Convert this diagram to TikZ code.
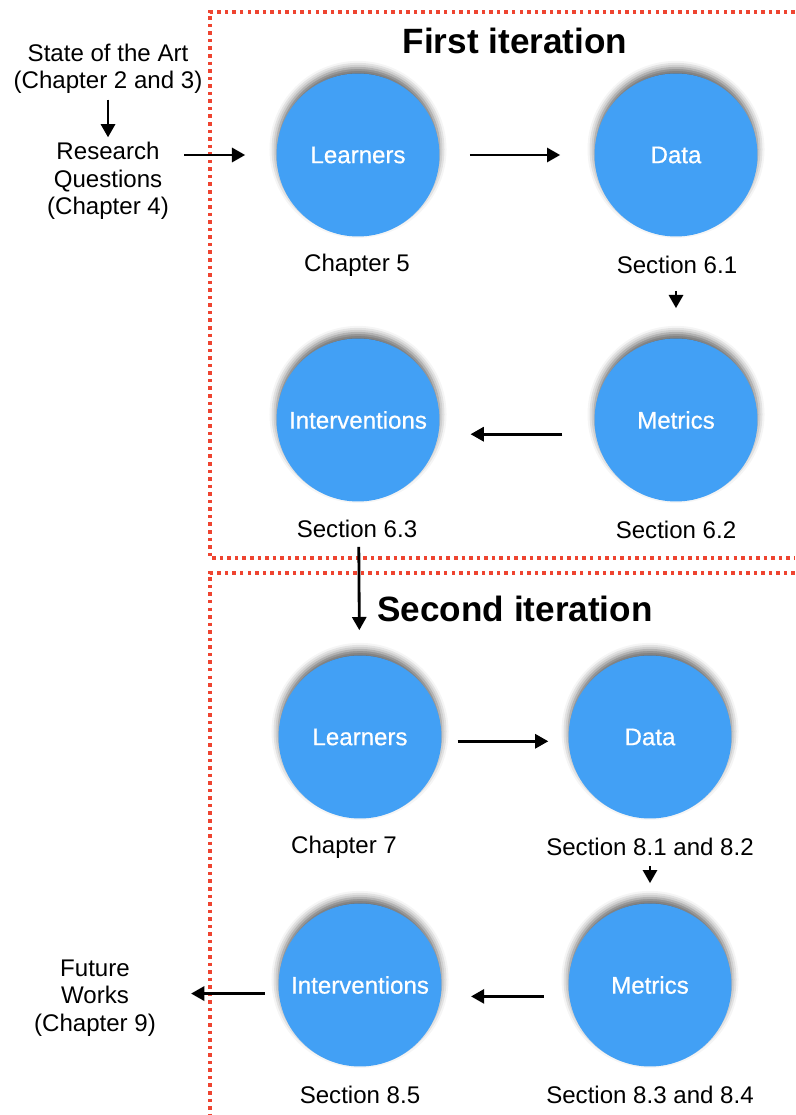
\documentclass[tikz,border=0pt]{standalone}
\usepackage{fontspec}
\setmainfont{Liberation Sans}
\usetikzlibrary{arrows.meta,shadows.blur}
\definecolor{ballblue}{HTML}{42A0F5}
\definecolor{boxred}{HTML}{EE4430}

\begin{document}
\begin{tikzpicture}[x=0.02cm,y=-0.02cm,
    ball/.style={circle,fill=ballblue,minimum size=3.26cm,inner sep=0pt,
        text=white,font=\fontsize{13.7}{16}\selectfont\addfontfeatures{FakeBold=0.6},
        blur shadow={shadow xshift=0pt,shadow yshift=3.2pt,shadow blur radius=4pt,shadow opacity=60}},
    sectext/.style={font=\fontsize{13.7}{15.5}\selectfont,align=center},
    itertitle/.style={font=\fontsize{20}{24}\selectfont\bfseries},
    flow/.style={-{Triangle[length=7.5pt,width=8pt]},line width=1.6pt},
    dotframe/.style={boxred,line width=2pt,dash pattern=on 2pt off 2.3pt}]
\useasboundingbox (0,0) rectangle (795,1115);

% Frames
\draw[dotframe] (795,12) -- (210,12) -- (210,558) -- (795,558);
\draw[dotframe] (795,573) -- (210,573) -- (210,1115);
\node[itertitle] (titleA) at (515,41) {First iteration};
\node[itertitle] (titleB) at (515,609) {Second iteration};

% Outside texts
\node[sectext] (sota) at (108,68.5) {State of the Art\\(Chapter 2 and 3)};
\node[sectext] (rq) at (108,181) {Research\\Questions\\(Chapter 4)};
\node[sectext] (future) at (95,998) {Future\\Works\\(Chapter 9)};

% First iteration
\node[ball] (learnA) at (358,155) {Learners};
\node[ball] (dataA) at (676,155) {Data};
\node[ball] (metA) at (676,420) {Metrics};
\node[ball] (intA) at (358,420) {Interventions};
\node[sectext] (capLearnA) at (357,265) {Chapter 5};
\node[sectext] (capDataA) at (677,265) {Section 6.1};
\node[sectext] (capMetA) at (676,530) {Section 6.2};
\node[sectext] (capIntA) at (357,529) {Section 6.3};

% Second iteration
\node[ball] (learnB) at (360,737) {Learners};
\node[ball] (dataB) at (650,737) {Data};
\node[ball] (metB) at (650,985) {Metrics};
\node[ball] (intB) at (360,985) {Interventions};
\node[sectext] (capLearnB) at (344,847) {Chapter 7};
\node[sectext] (capDataB) at (650,847) {Section 8.1 and 8.2};
\node[sectext] (capMetB) at (650,1095) {Section 8.3 and 8.4};
\node[sectext] (capIntB) at (360,1095) {Section 8.5};

% Arrows
\draw[flow,shorten <=0pt,shorten >=-0.02cm] (sota) -- (rq);
\draw[flow,shorten <=0.18cm,shorten >=0.62cm] (rq.east |- learnA) -- (learnA);
\draw[flow,shorten <=0.6cm,shorten >=0.68cm] (learnA) -- (dataA);
\draw[flow,shorten <=1.08cm,shorten >=0.6cm] (dataA) -- (metA);
\draw[flow,shorten <=0.66cm,shorten >=0.64cm] (metA.190) -- (intA.350);
\draw[flow,shorten <=0.9cm,shorten >=0.5cm] (intA) -- (learnB);
\draw[flow,shorten <=0.32cm,shorten >=0.4cm] (learnB.357) -- (dataB.183);
\draw[flow,shorten <=0.94cm,shorten >=0.4cm] (dataB) -- (metB);
\draw[flow,shorten <=0.5cm,shorten >=0.6cm] (metB.188) -- (intB.352);
\draw[flow,shorten <=0.28cm,shorten >=0.58cm] (intB.186) -- (future.east |- intB.186);
\end{tikzpicture}
\end{document}
